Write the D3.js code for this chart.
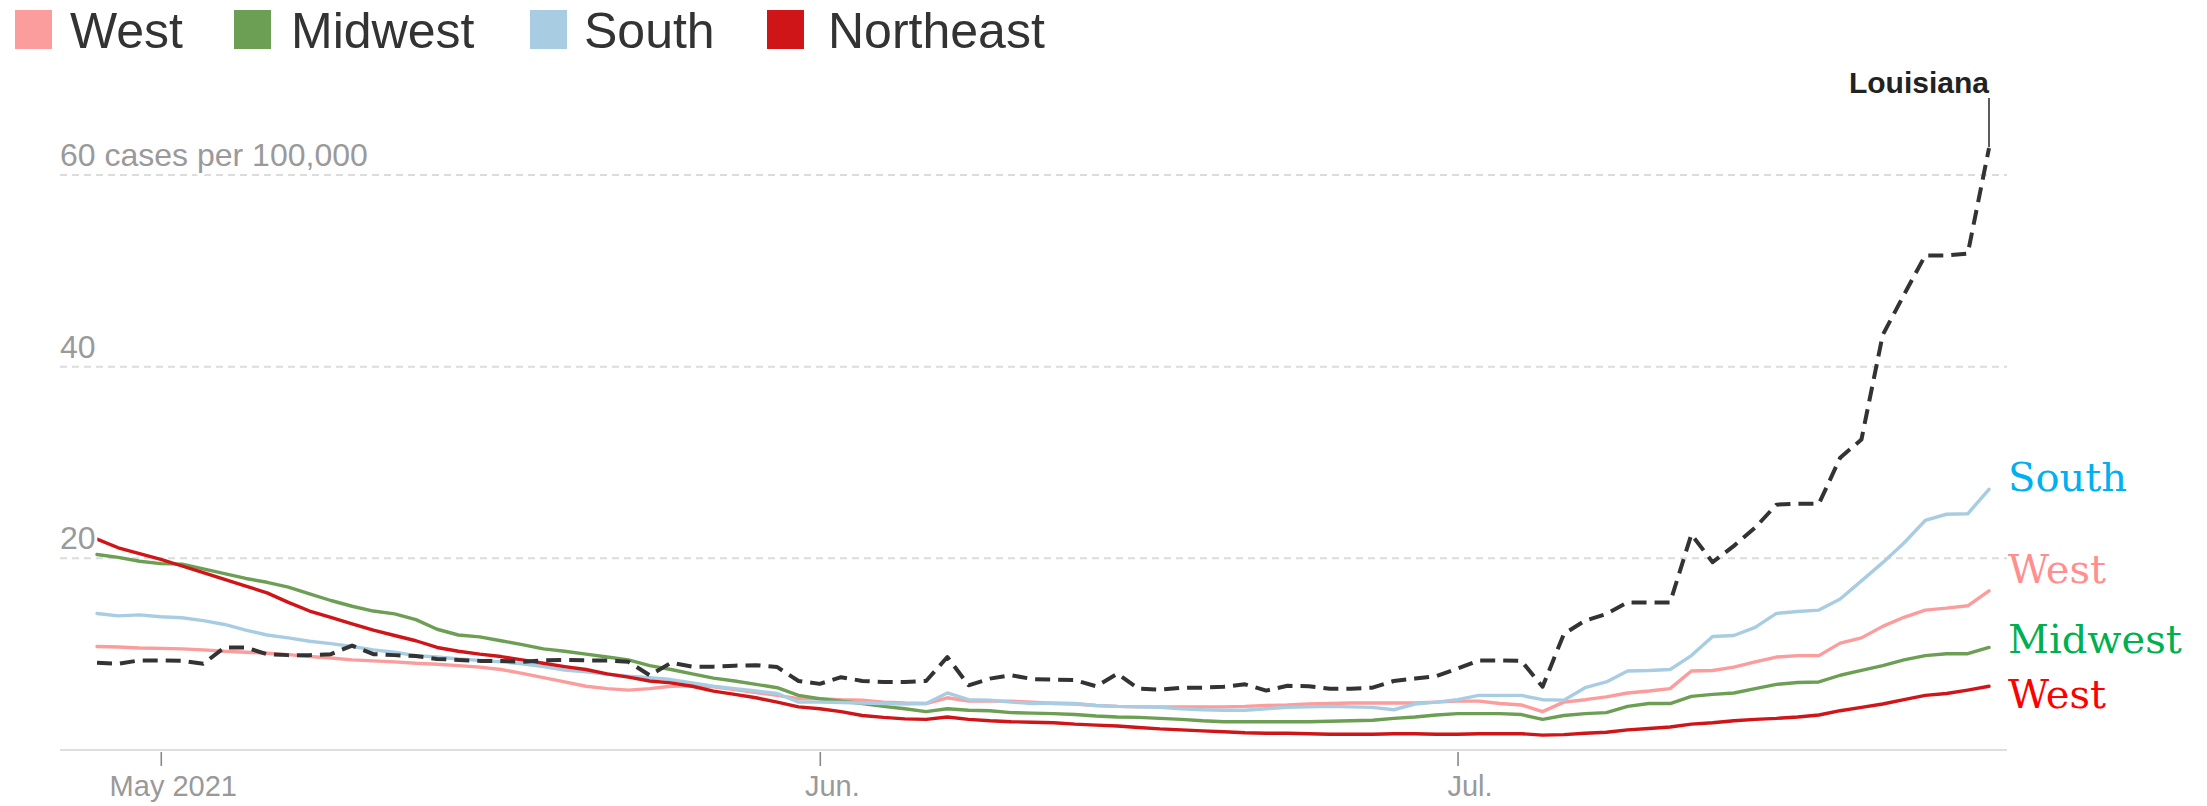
<!DOCTYPE html>
<html><head><meta charset="utf-8">
<script src="https://cdn.jsdelivr.net/npm/d3@7"></script>
<style>
body{margin:0;background:#fff}
svg{display:block}
</style>
</head><body><svg id="chart" width="2207" height="806"></svg>
<script>
// ---- data (7-day avg cases per 100,000), daily from Apr 28 to Jul 26, 2021 ----
const firstDay = "2021-04-28";
const westValues = [10.8,10.75,10.65,10.6,10.55,10.45,10.3,10.2,10.1,9.95,9.75,9.6,9.4,9.3,9.2,9.05,8.95,8.8,8.65,8.4,8.0,7.55,7.1,
  6.65,6.4,6.25,6.4,6.65,6.7,6.6,6.3,6.0,5.7,5.35,5.35,5.25,5.2,5.0,4.9,4.85,5.45,5.1,5.1,5.1,5.0,
  4.85,4.8,4.65,4.55,4.5,4.5,4.5,4.5,4.5,4.55,4.65,4.7,4.8,4.85,4.9,4.9,4.9,4.9,5.0,5.1,5.1,4.85,
  4.7,4.0,5.0,5.25,5.55,5.95,6.15,6.4,8.25,8.3,8.65,9.2,9.7,9.85,9.85,11.15,11.7,12.9,13.85,14.6,14.8,15.05,16.6];
const midwestValues = [20.4,20.1,19.7,19.45,19.4,18.9,18.4,17.9,17.5,17.0,16.3,15.6,15.0,14.5,14.2,13.6,12.6,12.0,11.8,11.4,11.0,10.55,10.3,
  10.0,9.7,9.4,8.8,8.4,7.95,7.5,7.2,6.85,6.5,5.7,5.35,5.1,4.85,4.55,4.3,4.0,4.3,4.15,4.1,3.9,3.85,
  3.8,3.7,3.55,3.45,3.4,3.3,3.2,3.05,2.95,2.95,2.95,2.95,2.95,3.0,3.05,3.1,3.3,3.45,3.65,3.8,3.8,3.8,
  3.7,3.2,3.6,3.8,3.9,4.55,4.85,4.85,5.6,5.8,5.95,6.4,6.85,7.05,7.1,7.8,8.3,8.8,9.4,9.85,10.05,10.05,10.7];
const southValues = [14.25,14.0,14.1,13.9,13.8,13.5,13.1,12.5,12.0,11.7,11.35,11.1,10.8,10.45,10.2,9.85,9.7,9.5,9.35,9.2,9.0,8.7,8.35,
  8.15,7.9,7.7,7.55,7.35,7.0,6.65,6.4,6.15,5.9,5.0,5.0,4.95,4.9,4.85,4.8,4.85,5.95,5.25,5.2,5.0,4.85,
  4.9,4.85,4.65,4.55,4.5,4.45,4.3,4.2,4.15,4.15,4.3,4.45,4.5,4.55,4.5,4.45,4.2,4.8,5.0,5.25,5.7,5.7,
  5.7,5.25,5.2,6.5,7.1,8.25,8.3,8.4,9.85,11.85,11.95,12.8,14.25,14.45,14.6,15.75,17.65,19.55,21.6,23.95,24.6,24.65,27.2];
const northeastValues = [22.0,21.1,20.5,19.9,19.2,18.5,17.8,17.1,16.4,15.4,14.5,13.85,13.15,12.5,11.95,11.4,10.7,10.3,10.0,9.75,9.4,9.05,8.7,
  8.4,7.95,7.6,7.2,7.0,6.65,6.15,5.8,5.45,5.0,4.5,4.3,4.0,3.6,3.4,3.25,3.2,3.45,3.2,3.05,2.95,2.9,
  2.85,2.7,2.6,2.5,2.35,2.2,2.1,2.0,1.9,1.8,1.75,1.75,1.7,1.65,1.65,1.65,1.7,1.7,1.65,1.65,1.7,1.7,
  1.7,1.55,1.6,1.75,1.85,2.1,2.25,2.4,2.7,2.85,3.05,3.2,3.3,3.45,3.65,4.1,4.45,4.8,5.25,5.7,5.9,6.25,6.65];
const louisianaValues = [9.1,9.0,9.35,9.35,9.3,9.0,10.7,10.7,10.0,9.9,9.9,10.0,10.9,10.0,9.9,9.8,9.5,9.4,9.3,9.3,9.2,9.35,9.4,
  9.35,9.35,9.2,7.8,9.1,8.7,8.7,8.8,8.85,8.65,7.2,6.9,7.6,7.2,7.1,7.1,7.2,9.7,6.75,7.45,7.8,7.4,
  7.35,7.3,6.65,7.95,6.4,6.3,6.5,6.5,6.6,6.85,6.2,6.7,6.65,6.4,6.4,6.5,7.2,7.45,7.7,8.5,9.35,9.35,
  9.3,6.6,12.1,13.5,14.2,15.4,15.4,15.4,22.5,19.6,21.3,23.2,25.6,25.7,25.7,30.5,32.4,43.3,47.5,51.6,51.6,51.8,62.8];

const regionNames = ["West","Midwest","South","Northeast"];
const regionColors = ["#fb9d9c","#6c9f54","#a8cde3","#cf1518"];
const yTickValues = [20, 40, 60];
const yTickLabels = ["20", "40", "60 cases per 100,000"];
const xTickDates = ["2021-05-01","2021-06-01","2021-07-01"];
const xTickLabels = ["May 2021","Jun.","Jul."];
const endLabelNames = ["South","West","Midwest","West"];
const endLabelColors = ["#00b0f0","#ff8f8f","#00b050","#ff0000"];
const stateName = "Louisiana";

// ---- build ----
const parse = d3.timeParse("%Y-%m-%d");
const start = parse(firstDay);
const dates = westValues.map((_, i) => d3.timeDay.offset(start, i));

const svg = d3.select("#chart");
const x = d3.scaleTime().domain([dates[0], dates[dates.length - 1]]).range([97, 1989]);
const y = d3.scaleLinear().domain([0, 60]).range([750, 175]);
const plotLeft = 60, plotRight = 2007;

// gridlines
svg.append("g").selectAll("line").data(yTickValues).join("line")
  .attr("x1", plotLeft).attr("x2", plotRight)
  .attr("y1", d => y(d)).attr("y2", d => y(d))
  .attr("stroke", "#dcdcdc").attr("stroke-width", 2).attr("stroke-dasharray", "7,5");

// baseline
svg.append("line").attr("x1", plotLeft).attr("x2", plotRight)
  .attr("y1", y(0)).attr("y2", y(0)).attr("stroke", "#dedede").attr("stroke-width", 2);

// x axis
const xAxis = d3.axisBottom(x)
  .tickValues(xTickDates.map(parse))
  .tickFormat((d, i) => xTickLabels[i])
  .tickSize(14);
const gx = svg.append("g").attr("transform", `translate(0,${y(0) + 2})`).call(xAxis);
gx.select(".domain").remove();
gx.selectAll(".tick line").attr("stroke", "#888").attr("stroke-width", 1.6);
gx.selectAll(".tick text").attr("fill", "#999").attr("font-family", "Liberation Sans, Arial, sans-serif")
  .attr("font-size", 29).attr("dx", 12).attr("y", 44).attr("dy", 0);

// lines
const line = d3.line().x((d, i) => x(dates[i])).y(d => y(d)).curve(d3.curveLinear);
const regionSeries = [westValues, midwestValues, southValues, northeastValues];
regionSeries.forEach((vals, k) => {
  svg.append("path").datum(vals).attr("d", line)
    .attr("fill", "none").attr("stroke", regionColors[k]).attr("stroke-width", 3.4)
    .attr("stroke-linejoin", "round").attr("stroke-linecap", "round");
});
svg.append("path").datum(louisianaValues).attr("d", line)
  .attr("fill", "none").attr("stroke", "#333").attr("stroke-width", 4)
  .attr("stroke-dasharray", "15,8").attr("stroke-linejoin", "round");

// y labels (with white halo)
svg.append("g").selectAll("text").data(yTickValues).join("text")
  .attr("x", plotLeft).attr("y", d => y(d) - 9)
  .attr("font-family", "Liberation Sans, Arial, sans-serif").attr("font-size", 32)
  .attr("fill", "#9a9a9a").attr("stroke", "#fff").attr("stroke-width", 6)
  .attr("paint-order", "stroke").attr("stroke-linejoin", "round")
  .text((d, i) => yTickLabels[i]);

// Louisiana annotation
const lastI = louisianaValues.length - 1;
const lx = x(dates[lastI]);
svg.append("line").attr("x1", lx).attr("x2", lx)
  .attr("y1", y(louisianaValues[lastI]) - 1).attr("y2", 98)
  .attr("stroke", "#333").attr("stroke-width", 1.6);
svg.append("text").attr("x", lx).attr("y", 93).attr("text-anchor", "end")
  .attr("font-family", "Liberation Sans, Arial, sans-serif").attr("font-weight", "bold")
  .attr("font-size", 30).attr("fill", "#222").text(stateName);

// legend
const legendSquareX = [15, 234, 530, 767];
const legendTextX = [70, 291, 584, 828];
const lg = svg.append("g");
regionNames.forEach((n, i) => {
  lg.append("rect").attr("x", legendSquareX[i]).attr("y", 10).attr("width", 37).attr("height", 39)
    .attr("fill", regionColors[i]);
  lg.append("text").attr("x", legendTextX[i]).attr("y", 48)
    .attr("font-family", "Liberation Sans, Arial, sans-serif").attr("font-size", 50)
    .attr("fill", "#333").text(n);
});

// end labels
const endLabelY = [491, 583, 653, 708];
svg.append("g").selectAll("text").data(endLabelNames).join("text")
  .attr("x", 2008).attr("y", (d, i) => endLabelY[i])
  .attr("font-family", "DejaVu Serif, serif").attr("font-size", 40)
  .attr("fill", (d, i) => endLabelColors[i]).text(d => d);
</script>
</body></html>
